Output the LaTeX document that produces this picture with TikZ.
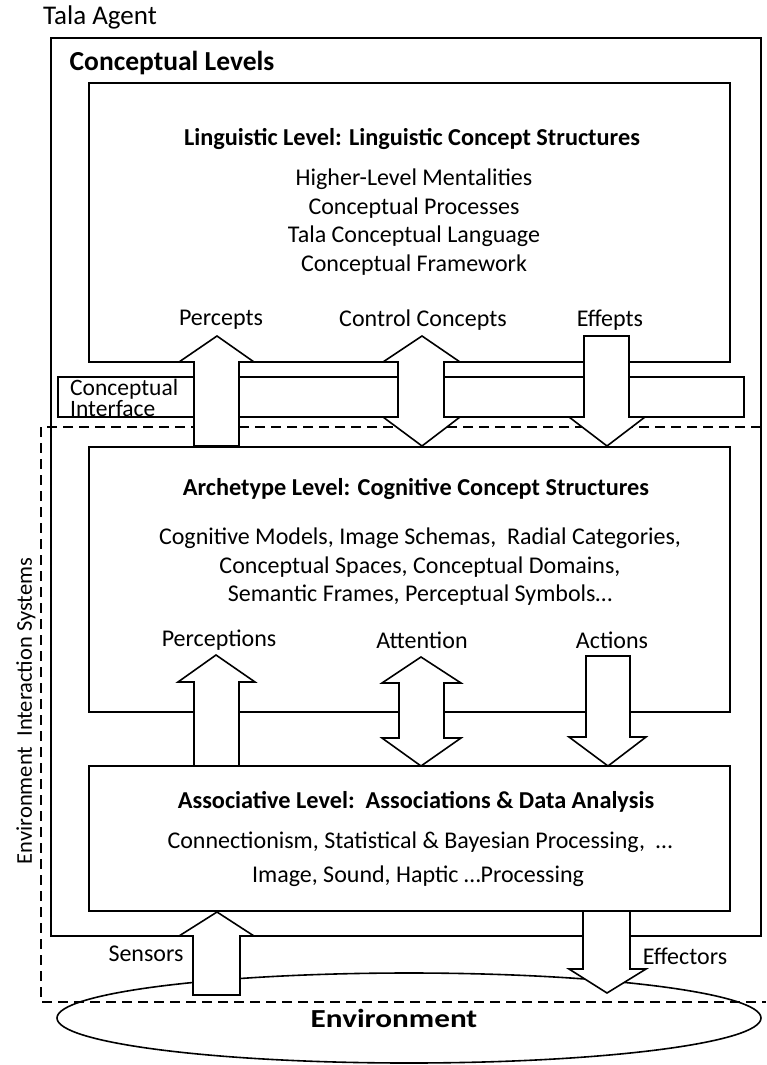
\documentclass[tikz,border=0pt]{standalone}
\usepackage{fontspec}
\setmainfont{Carlito}
\begin{document}
\begin{tikzpicture}[x=1pt,y=-1pt,line join=miter,
  box/.style={draw,line width=1.6pt},
  blockarrow/.style={draw,fill=white,line width=1.6pt},
  dashline/.style={draw,line width=1.6pt,dash pattern=on 10pt off 6pt},
  txt/.style={inner sep=0pt,font=\fontsize{24}{28.5}\selectfont,align=center},
  ttl/.style={inner sep=0pt,font=\fontsize{24.3}{28}\selectfont\bfseries},
  bigttl/.style={inner sep=0pt,font=\fontsize{27.5}{30}\selectfont\bfseries}]
\useasboundingbox (0,0) rectangle (766,1065);
% boxes
\draw[box] (51,38) rectangle (761,936);
\draw[box] (89,83) rectangle (730,362);
\draw[box] (58,377) rectangle (744,417);
\draw[dashline] (761,427) -- (41,427) -- (41,1002) -- (766,1002);
\draw[box] (89,447) rectangle (730,712);
\draw[box] (89,766) rectangle (730,911);
\draw[line width=1.6pt] (409,1018) ellipse [x radius=352, y radius=45];
% block arrows: conceptual interface
\draw[blockarrow] (194,446) -- (194,362) -- (179,362) -- (217,336) -- (254,362) -- (239,362) -- (239,446) -- cycle;
\draw[blockarrow] (398,417) -- (398,362) -- (383,362) -- (422,336) -- (460,362) -- (444,362) -- (444,417) -- (460,417) -- (422,446) -- (383,417) -- cycle;
\draw[blockarrow] (584,336) -- (629,336) -- (629,417) -- (645,417) -- (607,446) -- (569,417) -- (584,417) -- cycle;
% block arrows: archetype/associative
\draw[blockarrow] (194,766) -- (194,682) -- (178,682) -- (216,655) -- (255,682) -- (239,682) -- (239,766) -- cycle;
\draw[blockarrow] (399,738) -- (399,683) -- (382,683) -- (421,657) -- (461,683) -- (444,683) -- (444,738) -- (461,738) -- (421,766) -- (382,738) -- cycle;
\draw[blockarrow] (586,656) -- (630,656) -- (630,737) -- (646,737) -- (608,766) -- (569,737) -- (586,737) -- cycle;
% sensors / effectors
\draw[blockarrow] (193,995) -- (193,936) -- (179,936) -- (217,912) -- (254,936) -- (240,936) -- (240,995) -- cycle;
\draw[blockarrow] (583,911) -- (630,911) -- (630,969) -- (646,969) -- (607,993) -- (569,969) -- (583,969) -- cycle;
% texts
\node[txt,font=\fontsize{27}{30}\selectfont] (tala) at (100,17) {Tala Agent};
\node[bigttl] (cl) at (172,63) {Conceptual Levels};
\node[ttl] (lingt) at (412,139) {Linguistic Level: Linguistic Concept Structures};
\node[txt] (lingb) at (414,222) {Higher-Level Mentalities\\Conceptual Processes\\Tala Conceptual Language\\Conceptual Framework};
\node[txt] (percepts) at (221,320) {Percepts};
\node[txt] (control) at (423,320) {Control Concepts};
\node[txt] (effepts) at (610,320) {Effepts};
\node[txt,align=left,anchor=west,font=\fontsize{23.5}{19}\selectfont] (ci) at (70,398) {Conceptual\\Interface};
\node[ttl] (archt) at (416,489) {Archetype Level: Cognitive Concept Structures};
\node[txt] (archb) at (420,567) {Cognitive Models, Image Schemas,\ \ Radial Categories,\\Conceptual Spaces, Conceptual Domains,\\Semantic Frames, Perceptual Symbols…};
\node[txt] (perc) at (219,640) {Perceptions};
\node[txt] (att) at (422,640) {Attention};
\node[txt] (act) at (612,640) {Actions};
\node[ttl] (asst) at (416,802) {Associative Level:\ \ Associations \& Data Analysis};
\node[txt] (assb1) at (420,842) {Connectionism, Statistical \& Bayesian Processing, \ …};
\node[txt] (assb2) at (418,876) {Image, Sound, Haptic …Processing};
\node[txt] (sens) at (146,954) {Sensors};
\node[txt] (eff) at (685,956) {Effectors};
\node[inner sep=0pt,font=\fontsize{26}{30}\selectfont\bfseries] (env) at (394,1018) {\scalebox{1.2}[1]{Environment}};
\node[txt,rotate=90,font=\fontsize{22.5}{26}\selectfont] (eis) at (26,711) {Environment\ \ Interaction Systems};
\end{tikzpicture}
\end{document}
